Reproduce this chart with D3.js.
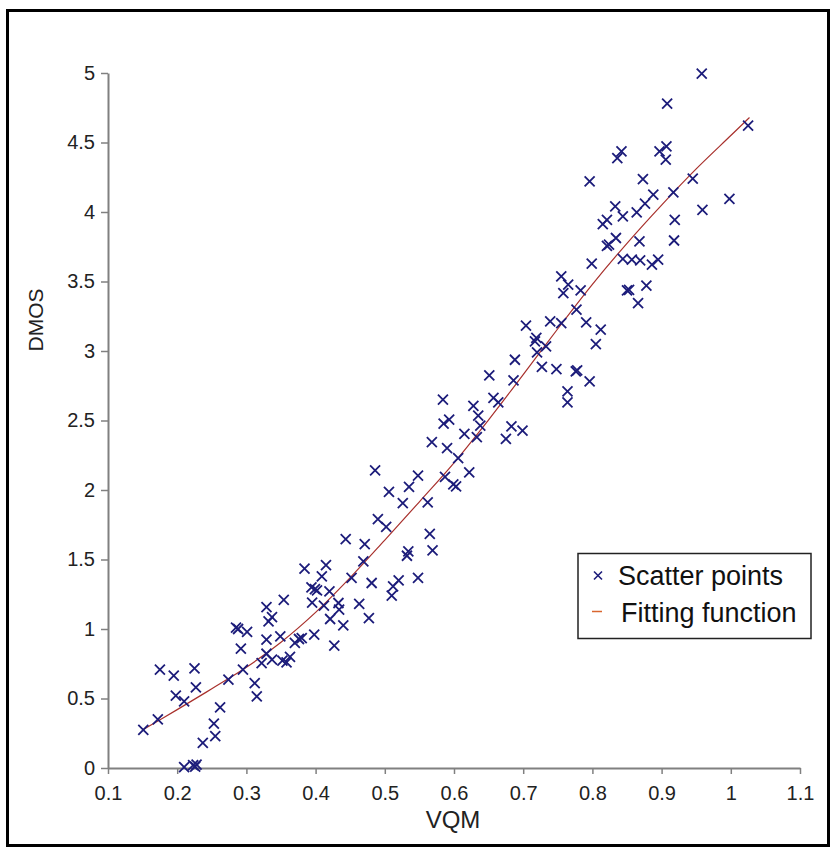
<!DOCTYPE html>
<html>
<head>
<meta charset="utf-8">
<script src="https://cdn.jsdelivr.net/npm/d3@7"></script>
<style>
  body { margin: 0; background: #fff; }
  svg text { font-family: "Liberation Sans", Arial, sans-serif; }
</style>
</head>
<body>
<div id="chart-area"></div>
<script>
// scatter points
const vqm = [
  0.151, 0.172, 0.175, 0.195, 0.198, 0.21, 0.225, 0.227, 0.21, 0.223,
  0.226, 0.228, 0.237, 0.253, 0.255, 0.262, 0.274, 0.285, 0.288, 0.301,
  0.292, 0.295, 0.312, 0.315, 0.329, 0.332, 0.337, 0.329, 0.322, 0.329,
  0.337, 0.349, 0.354, 0.352, 0.358, 0.363, 0.37, 0.376, 0.384, 0.394,
  0.399, 0.402, 0.395, 0.398, 0.38,
  0.4435, 0.471, 0.502, 0.565, 0.569, 0.534, 0.532, 0.469, 0.415, 0.409,
  0.452, 0.481, 0.52, 0.512, 0.51, 0.548, 0.42, 0.412, 0.433, 0.434,
  0.463, 0.421, 0.44, 0.477, 0.427,
  0.765, 0.758, 0.777, 0.704, 0.739, 0.755, 0.719, 0.717, 0.733, 0.72,
  0.688, 0.727, 0.748, 0.776, 0.764, 0.764, 0.651, 0.686, 0.657, 0.664,
  0.584, 0.628, 0.635, 0.585, 0.593, 0.638, 0.615, 0.633, 0.683, 0.699,
  0.675, 0.568, 0.59, 0.606, 0.486, 0.622, 0.548, 0.535, 0.506, 0.599,
  0.603, 0.526, 0.562, 0.49, 0.587,
  0.958, 0.908, 1.025, 0.842, 0.836, 0.907, 0.897, 0.906, 0.796, 0.873,
  0.945, 0.917, 0.888, 0.998, 0.833, 0.876, 0.959, 0.864, 0.844, 0.821,
  0.815, 0.919, 0.834, 0.821, 0.824, 0.868, 0.918, 0.799, 0.844, 0.857,
  0.869, 0.886, 0.895, 0.755,
  0.783, 0.85, 0.853, 0.878, 0.866, 0.791, 0.812, 0.805, 0.778, 0.796
];
const dmos = [
  0.275, 0.35, 0.707, 0.665, 0.52, 0.48, 0.717, 0.58, 0.007, 0.02,
  0.01, 0.025, 0.18, 0.32, 0.23, 0.436, 0.635, 1.01, 1.0, 0.98,
  0.858, 0.707, 0.61, 0.515, 1.158, 1.055, 1.086, 0.923, 0.755, 0.822,
  0.78, 0.947, 1.21, 0.772, 0.76, 0.8, 0.9, 0.928, 1.434, 1.3,
  1.287, 1.278, 1.19, 0.96, 0.935,
  1.647, 1.61, 1.734, 1.685, 1.565, 1.558, 1.527, 1.486, 1.46, 1.378,
  1.367, 1.331, 1.35, 1.306, 1.24, 1.367, 1.27, 1.168, 1.187, 1.139,
  1.18, 1.072, 1.026, 1.079, 0.88,
  3.477, 3.417, 3.297, 3.182, 3.213, 3.2, 3.094, 3.07, 3.033, 2.99,
  2.937, 2.885, 2.87, 2.853, 2.71, 2.63, 2.824, 2.788, 2.662, 2.63,
  2.65, 2.606, 2.535, 2.477, 2.506, 2.463, 2.403, 2.381, 2.458, 2.427,
  2.367, 2.345, 2.302, 2.23, 2.141, 2.127, 2.103, 2.022, 1.986, 2.04,
  2.026, 1.906, 1.911, 1.791, 2.094,
  4.995, 4.779, 4.621, 4.436, 4.388, 4.472, 4.436, 4.376, 4.22, 4.237,
  4.24, 4.141, 4.125, 4.094, 4.04, 4.06, 4.016, 3.997, 3.968, 3.944,
  3.913, 3.944, 3.813, 3.757, 3.765, 3.788, 3.795, 3.628, 3.662, 3.657,
  3.652, 3.621, 3.657, 3.537,
  3.436, 3.436, 3.44, 3.47, 3.345, 3.206, 3.153, 3.05, 2.86, 2.781
];

// fitting function
const fitX = [0.151, 0.2, 0.25, 0.3, 0.35, 0.4, 0.45, 0.5, 0.55, 0.6, 0.65,
  0.7, 0.75, 0.8, 0.85, 0.9, 0.95, 1.0, 1.027];
const fitY = [0.277, 0.42, 0.57, 0.725, 0.905, 1.12, 1.37, 1.64, 1.915, 2.195, 2.505,
  2.83, 3.16, 3.48, 3.775, 4.05, 4.31, 4.55, 4.68];

const xTicks = [0.1, 0.2, 0.3, 0.4, 0.5, 0.6, 0.7, 0.8, 0.9, 1, 1.1];
const xTickLabels = ['0.1', '0.2', '0.3', '0.4', '0.5', '0.6', '0.7', '0.8', '0.9', '1', '1.1'];
const yTicks = [0, 0.5, 1, 1.5, 2, 2.5, 3, 3.5, 4, 4.5, 5];
const yTickLabels = ['0', '0.5', '1', '1.5', '2', '2.5', '3', '3.5', '4', '4.5', '5'];

const legendLabels = ['Scatter points', 'Fitting function'];

const W = 837, H = 856;
const margins = { top: 73, right: 37, bottom: 88, left: 108 };
const width = W - margins.left - margins.right;
const height = H - margins.top - margins.bottom;

const svg = d3.select('#chart-area')
  .append('svg')
  .attr('width', W)
  .attr('height', H);

// outer frame
svg.append('rect')
  .attr('x', 7.5).attr('y', 10.5)
  .attr('width', 821).attr('height', 835)
  .attr('fill', 'none')
  .attr('stroke', '#000')
  .attr('stroke-width', 3);

const g = svg.append('g')
  .attr('transform', 'translate(' + margins.left + ', ' + margins.top + ')');

const x = d3.scaleLinear().domain([0.1, 1.1]).range([0, width]);
const y = d3.scaleLinear().domain([0, 5]).range([height, 0]);

const xAxis = g.append('g')
  .attr('transform', 'translate(0, ' + height + ')')
  .call(d3.axisBottom(x)
    .tickValues(xTicks)
    .tickFormat((d, i) => xTickLabels[i])
    .tickSize(6)
    .tickSizeOuter(0)
    .tickPadding(12));

const yAxis = g.append('g')
  .call(d3.axisLeft(y)
    .tickValues(yTicks)
    .tickFormat((d, i) => yTickLabels[i])
    .tickSize(7)
    .tickSizeOuter(0)
    .tickPadding(6));

[xAxis, yAxis].forEach((a) => {
  a.select('.domain').attr('stroke', '#808080').attr('stroke-width', 2);
  a.selectAll('.tick line').attr('stroke', '#808080').attr('stroke-width', 1.5);
  a.selectAll('.tick text')
    .attr('fill', '#222')
    .style('font-size', '20px')
    .style('font-family', '"Liberation Sans", Arial, sans-serif');
});

// axis titles
svg.append('text')
  .attr('x', 453).attr('y', 828)
  .attr('text-anchor', 'middle')
  .attr('fill', '#222')
  .style('font-size', '24px')
  .text('VQM');

svg.append('text')
  .attr('transform', 'translate(43, 320) rotate(-90)')
  .attr('text-anchor', 'middle')
  .attr('fill', '#222')
  .style('font-size', '21px')
  .text('DMOS');

// fitting function
const fitData = fitX.map((v, i) => ({ x: v, y: fitY[i] }));
const line = d3.line()
  .x((d) => x(d.x))
  .y((d) => y(d.y))
  .curve(d3.curveCatmullRom);

g.append('path')
  .datum(fitData)
  .attr('d', line)
  .attr('fill', 'none')
  .attr('stroke', '#a8302c')
  .attr('stroke-width', 1.2);

// scatter points as x marks
const pts = vqm.map((v, i) => ({ x: v, y: dmos[i] }));
const s = 5;
g.selectAll('path.pt')
  .data(pts)
  .enter()
  .append('path')
  .attr('class', 'pt')
  .attr('d', (d) => {
    const cx = x(d.x), cy = y(d.y);
    return 'M' + (cx - s) + ',' + (cy - s) + 'L' + (cx + s) + ',' + (cy + s) +
      'M' + (cx - s) + ',' + (cy + s) + 'L' + (cx + s) + ',' + (cy - s);
  })
  .attr('stroke', '#1c1c7a')
  .attr('stroke-width', 1.8)
  .attr('fill', 'none');

// legend
const legend = svg.append('g').attr('transform', 'translate(578, 553.5)');
legend.append('rect')
  .attr('width', 233).attr('height', 85)
  .attr('fill', '#fff')
  .attr('stroke', '#222')
  .attr('stroke-width', 1.5);

legend.append('path')
  .attr('d', 'M16,18L24,26M16,26L24,18')
  .attr('stroke', '#1c1c7a')
  .attr('stroke-width', 1.6);
legend.append('line')
  .attr('x1', 14).attr('x2', 24)
  .attr('y1', 58).attr('y2', 58)
  .attr('stroke', '#d9662f')
  .attr('stroke-width', 1.5);

legend.selectAll('text.lab')
  .data(legendLabels)
  .enter()
  .append('text')
  .attr('class', 'lab')
  .attr('x', (d, i) => i === 0 ? 40 : 43)
  .attr('y', (d, i) => 31 + i * 37)
  .attr('fill', '#111')
  .style('font-size', '27px')
  .text((d) => d);
</script>
</body>
</html>
